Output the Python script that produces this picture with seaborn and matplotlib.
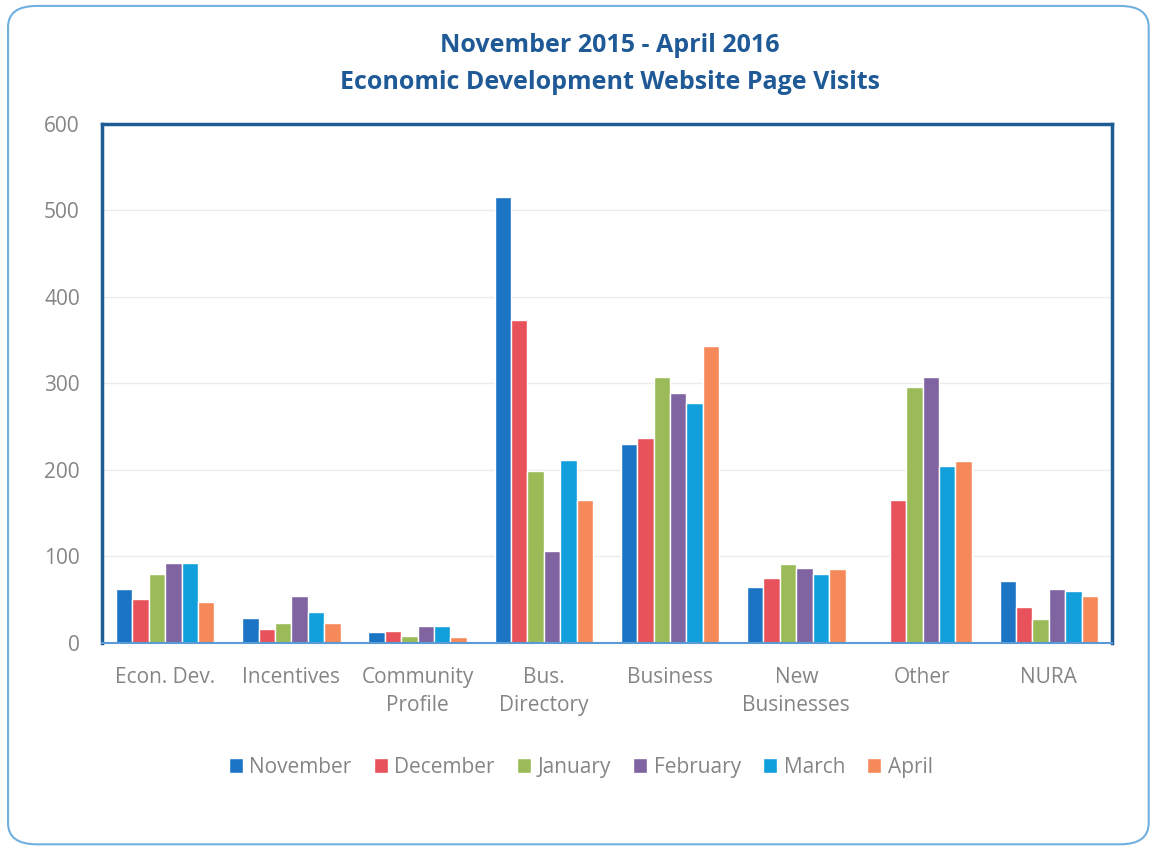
import matplotlib
matplotlib.use("Agg")
import matplotlib.pyplot as plt
import seaborn as sns
import pandas as pd
from matplotlib.patches import FancyBboxPatch

categories = ["Econ. Dev.", "Incentives", "Community\nProfile", "Bus.\nDirectory",
              "Business", "New\nBusinesses", "Other", "NURA"]
months = ["November", "December", "January", "February", "March", "April"]
november = [62, 29, 13, 516, 230, 65, 0, 72]
december = [51, 16, 14, 373, 237, 75, 165, 42]
january = [80, 23, 8, 199, 308, 91, 296, 28]
february = [92, 54, 20, 106, 289, 87, 308, 62]
march = [93, 36, 20, 212, 277, 80, 205, 60]
april = [47, 23, 7, 165, 343, 86, 210, 54]
yticks = [0, 100, 200, 300, 400, 500, 600]

colors = ["#1B74C4", "#E8525A", "#9BBB59", "#8064A2", "#11A0DC", "#F6895A"]

series = [november, december, january, february, march, april]
rows = []
for m, vals in zip(months, series):
    for c, v in zip(categories, vals):
        rows.append({"category": c, "month": m, "visits": v})
df = pd.DataFrame(rows)

sns.set_theme(style="white")
plt.rcParams["font.family"] = ["Open Sans", "DejaVu Sans"]

fig = plt.figure(figsize=(11.51, 8.46), dpi=100)
ax = fig.add_axes([0.0886, 0.240, 0.8774, 0.6135])

sns.barplot(data=df, x="category", y="visits", hue="month", order=categories,
            hue_order=months, palette=colors, width=0.78, gap=0.0,
            saturation=1, ax=ax, legend=True)

ax.set_ylim(0, 600)
ax.set_xlim(-0.5, len(categories) - 0.5)
ax.set_yticks(yticks)
ax.set_yticklabels([str(t) for t in yticks], color="#858585", fontsize=15)
ax.tick_params(axis="x", colors="#858585", labelsize=15, length=0, pad=17)
ax.tick_params(axis="y", length=0, pad=16)
for lab in ax.get_xticklabels():
    lab.set_linespacing(1.45)
    lab.set_verticalalignment("top")
ax.set_xlabel("")
ax.set_ylabel("")
ax.yaxis.grid(True, color="#ececec", linewidth=1)
ax.set_axisbelow(True)

for side in ["left", "top", "right"]:
    ax.spines[side].set_color("#1E5C96")
    ax.spines[side].set_linewidth(2.5)
    ax.spines[side].set_visible(True)
ax.spines["bottom"].set_color("#5B9BD5")
ax.spines["bottom"].set_linewidth(1.5)

handles, labels = ax.get_legend_handles_labels()
ax.legend(handles, labels, loc="center", bbox_to_anchor=(0.474, -0.24), ncol=6,
          frameon=False, fontsize=15, labelcolor="#858585", handlelength=0.7,
          handleheight=0.7, handletextpad=0.3, columnspacing=1.05)

fig.text(0.53, 0.946, "November 2015 - April 2016", ha="center", va="center",
         fontsize=18, fontweight="bold", color="#1F5A96")
fig.text(0.53, 0.902, "Economic Development Website Page Visits", ha="center", va="center",
         fontsize=18, fontweight="bold", color="#1F5A96")

border = FancyBboxPatch((0.007, 0.002), 0.991, 0.991, transform=fig.transFigure,
                        boxstyle="round,pad=0,rounding_size=0.025", fill=False,
                        edgecolor="#6FB0E0", linewidth=1.5, clip_on=False)
fig.patches.append(border)

fig.savefig("out.png", dpi=100)
